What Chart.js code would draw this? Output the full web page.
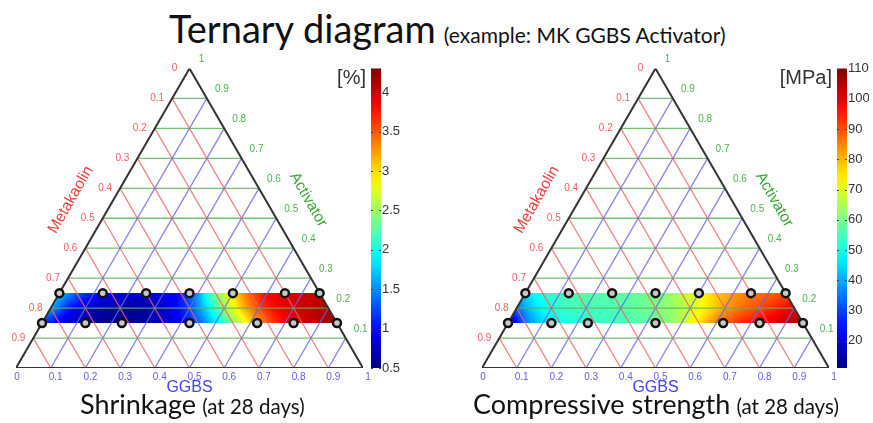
<!DOCTYPE html>
<html>
<head>
<meta charset="utf-8">
<script src="https://cdn.jsdelivr.net/npm/chart.js@4"></script>
<style>
  body { margin: 0; background: #fff; width: 873px; height: 423px; overflow: hidden; position: relative; }
  .panel { position: absolute; top: 0; width: 407px; height: 423px; }
  .txt { position: absolute; white-space: nowrap; font-family: Lato, "Open Sans", sans-serif; color: #111; }
  #title { left: 169px; top: 5px; }
  #title .big { font-size: 38px; }
  #title .small { font-size: 21px; margin-left: 4px; }
  .cap .big { font-size: 27px; }
  .cap .small { font-size: 20.5px; margin-left: 2px; }
</style>
</head>
<body>
<div id="title" class="txt"><span class="big">Ternary diagram</span> <span class="small">(example: MK GGBS Activator)</span></div>
<div class="panel" style="left:0"><canvas id="shrinkChart"></canvas></div>
<div class="panel" style="left:466px"><canvas id="strengthChart"></canvas></div>
<div class="txt cap" style="left:80px; top:387px"><span class="big">Shrinkage</span> <span class="small">(at 28 days)</span></div>
<div class="txt cap" style="left:473px; top:387px"><span class="big">Compressive strength</span> <span class="small">(at 28 days)</span></div>

<script>
// ternary grid ticks
var gridTicks = [0.1, 0.2, 0.3, 0.4, 0.5, 0.6, 0.7, 0.8, 0.9];
var metakaolinLabels = ['0', '0.1', '0.2', '0.3', '0.4', '0.5', '0.6', '0.7', '0.8', '0.9'];
var activatorLabels = ['0.1', '0.2', '0.3', '0.4', '0.5', '0.6', '0.7', '0.8', '0.9', '1'];
var ggbsLabels = ['0', '0.1', '0.2', '0.3', '0.4', '0.5', '0.6', '0.7', '0.8', '0.9', '1'];

// mix points (GGBS fraction) on the two activator levels
var upperActivator = 0.25;
var lowerActivator = 0.15;
var upperGGBS = [0, 0.125, 0.25, 0.375, 0.5, 0.65, 0.75];
var lowerGGBS = [0, 0.125, 0.23, 0.425, 0.62, 0.725, 0.85];

// interpolated field: rows at activator 0.25 / 0.2 / 0.15
var bandRows = [0.25, 0.2, 0.15];
var bandGGBS = [0, 0.05, 0.1, 0.15, 0.2, 0.25, 0.3, 0.35, 0.4, 0.45, 0.5, 0.55, 0.6, 0.65, 0.7, 0.75, 0.8, 0.85];

var shrinkTop = [1.7, 1.3, 1.05, 0.95, 0.85, 0.85, 0.95, 1.05, 1.6, 2.4, 3.0, 3.5, 3.85, 3.95, 4.0, 4.05];
var shrinkMid = [1.6, 1.1, 0.8, 0.65, 0.6, 0.6, 0.7, 0.9, 1.2, 1.8, 2.5, 3.1, 3.6, 3.85, 4.0, 4.05, 4.15];
var shrinkBottom = [1.2, 0.9, 0.7, 0.6, 0.55, 0.55, 0.6, 0.75, 0.95, 1.3, 1.8, 2.4, 3.0, 3.5, 3.85, 4.0, 4.1, 4.2];

var strengthTop = [45, 52, 55, 56, 57, 57, 58, 59, 61, 66, 72, 78, 83, 86, 88, 90];
var strengthMid = [35, 45, 52, 54, 55, 55, 56, 58, 60, 63, 68, 75, 82, 87, 91, 95, 100];
var strengthBottom = [15, 35, 45, 50, 52, 53, 54, 55, 57, 60, 66, 76, 86, 92, 96, 100, 104, 108];

// colour bars
var shrinkTicks = [0.5, 1, 1.5, 2, 2.5, 3, 3.5, 4];
var shrinkMin = 0.5, shrinkMax = 4.3;
var strengthTicks = [20, 30, 40, 50, 60, 70, 80, 90, 100, 110];
var strengthMin = 11, strengthMax = 110;

var H = Math.sqrt(3) / 2;
function tern(g, a) { return { x: g + a / 2, y: a * H }; }

function jet(t) {
  t = Math.max(0, Math.min(1, t));
  function c(v) { return Math.round(255 * Math.max(0, Math.min(1, v))); }
  return [c(1.5 - Math.abs(4 * t - 3)), c(1.5 - Math.abs(4 * t - 2)), c(1.5 - Math.abs(4 * t - 1))];
}

function rowValue(row, g) {
  var last = row.length - 1;
  var f = g / (bandGGBS[1] - bandGGBS[0]);
  var i = Math.floor(f);
  if (i >= last) return row[last];
  if (i < 0) return row[0];
  return row[i] + (row[i + 1] - row[i]) * (f - i);
}

function lineSet(p1, p2, color) {
  return { type: 'line', data: [p1, p2], borderColor: color, borderWidth: 1.3, pointRadius: 0, order: 3, yAxisID: 'y' };
}

function buildDatasets() {
  var sets = [];
  gridTicks.forEach(function (k) {
    sets.push(lineSet(tern(0, k), tern(1 - k, k), 'rgba(90,180,90,0.85)'));      // activator = k
    sets.push(lineSet(tern(0, 1 - k), tern(1 - k, 0), 'rgba(240,100,100,0.8)')); // metakaolin = k
    sets.push(lineSet(tern(k, 0), tern(k, 1 - k), 'rgba(100,100,240,0.8)'));     // GGBS = k
  });
  sets.push({ type: 'line', data: [tern(0, 0), tern(1, 0), tern(0, 1), tern(0, 0)],
    borderColor: '#333', borderWidth: 2, pointRadius: 0, order: 2, yAxisID: 'y' });
  var pts = upperGGBS.map(function (g) { return tern(g, upperActivator); })
    .concat(lowerGGBS.map(function (g) { return tern(g, lowerActivator); }));
  sets.push({ type: 'scatter', data: pts, pointRadius: 4, borderWidth: 2.5,
    borderColor: '#111', backgroundColor: '#c8c8c8', order: 1, yAxisID: 'y' });
  return sets;
}

var ternaryPlugin = {
  id: 'ternary',
  beforeDatasetsDraw: function (chart) {
    var o = chart.options.plugins.ternary;
    var xs = chart.scales.x, ys = chart.scales.y;
    var y0 = Math.floor(ys.getPixelForValue(bandRows[0] * H));
    var y1 = Math.ceil(ys.getPixelForValue(bandRows[2] * H));
    var x0 = Math.floor(xs.getPixelForValue(0));
    var x1 = Math.ceil(xs.getPixelForValue(1));
    var w = x1 - x0, h = y1 - y0;
    var off = document.createElement('canvas');
    off.width = w; off.height = h;
    var octx = off.getContext('2d');
    var img = octx.createImageData(w, h);
    for (var py = 0; py < h; py++) {
      var a = ys.getValueForPixel(y0 + py + 0.5) / H;
      if (a > bandRows[0] || a < bandRows[2]) continue;
      for (var px = 0; px < w; px++) {
        var X = xs.getValueForPixel(x0 + px + 0.5);
        var g = X - a / 2;
        if (g < 0 || 1 - g - a < 0) continue;
        var v;
        if (a >= bandRows[1]) {
          var t = (a - bandRows[1]) / (bandRows[0] - bandRows[1]);
          v = rowValue(o.mid, g) * (1 - t) + rowValue(o.top, g) * t;
        } else {
          var s = (a - bandRows[2]) / (bandRows[1] - bandRows[2]);
          v = rowValue(o.bottom, g) * (1 - s) + rowValue(o.mid, g) * s;
        }
        var col = jet((v - o.min) / (o.max - o.min));
        var k = (py * w + px) * 4;
        img.data[k] = col[0]; img.data[k + 1] = col[1]; img.data[k + 2] = col[2]; img.data[k + 3] = 255;
      }
    }
    octx.putImageData(img, 0, 0);
    chart.ctx.drawImage(off, x0, y0);
  },
  afterDraw: function (chart) {
    var o = chart.options.plugins.ternary;
    var ctx = chart.ctx;
    var xs = chart.scales.x, ys = chart.scales.y, cb = chart.scales.cb;
    function px(p) { return { x: xs.getPixelForValue(p.x), y: ys.getPixelForValue(p.y) }; }
    ctx.save();
    ctx.font = '10px "Liberation Sans Narrow", "Liberation Sans", sans-serif';
    ctx.textBaseline = 'middle';
    ctx.textAlign = 'center';
    ctx.fillStyle = '#f06060';
    metakaolinLabels.forEach(function (lab, i) {
      var p = px(tern(0, 1 - i / 10));
      ctx.fillText(lab, p.x - 15, p.y);
    });
    ctx.fillStyle = '#4fb04f';
    activatorLabels.forEach(function (lab, i) {
      var a = (i + 1) / 10;
      var p = px(tern(1 - a, a));
      ctx.fillText(lab, p.x + (lab === '1' ? 12 : 15), p.y - 9);
    });
    ctx.fillStyle = '#6060f0';
    ggbsLabels.forEach(function (lab, i) {
      var p = px(tern(i / 10, 0));
      ctx.fillText(lab, p.x + (i === 0 ? 1 : 5), p.y + 9);
    });

    // axis names
    ctx.font = '15.5px "Liberation Sans", sans-serif';
    var mk = px(tern(0, 0.5));
    ctx.fillStyle = '#f03a3a';
    ctx.save(); ctx.translate(mk.x - 32, mk.y - 18.5); ctx.rotate(-Math.PI / 3); ctx.fillText('Metakaolin', 0, 0); ctx.restore();
    var ac = px(tern(0.5, 0.5));
    ctx.fillStyle = '#36a836';
    ctx.save(); ctx.translate(ac.x + 32, ac.y - 18.5); ctx.rotate(Math.PI / 3); ctx.fillText('Activator', 0, 0); ctx.restore();
    var gb = px(tern(0.5, 0));
    ctx.fillStyle = '#4444f0';
    ctx.font = '16px "Liberation Sans", sans-serif';
    ctx.fillText('GGBS', gb.x, gb.y + 20);

    // colour bar
    var bl = cb.left + 8, bw = 10;
    var grad = ctx.createLinearGradient(0, cb.bottom, 0, cb.top);
    for (var i = 0; i <= 20; i++) {
      var c = jet(i / 20);
      grad.addColorStop(i / 20, 'rgb(' + c.join(',') + ')');
    }
    ctx.fillStyle = grad;
    ctx.fillRect(bl, cb.top, bw, cb.bottom - cb.top);
    ctx.strokeStyle = '#444';
    ctx.lineWidth = 1;
    o.ticks.forEach(function (v) {
      var y = Math.round(cb.getPixelForValue(v)) + 0.5;
      ctx.beginPath();
      ctx.moveTo(bl, y); ctx.lineTo(bl + 2, y);
      ctx.moveTo(bl + bw - 2, y); ctx.lineTo(bl + bw, y);
      ctx.stroke();
    });
    ctx.font = '20px "Liberation Sans", sans-serif';
    ctx.fillStyle = '#333';
    ctx.textAlign = 'right';
    ctx.fillText(o.unit, bl - 5, cb.top + 10);
    ctx.restore();
  }
};

function makeChart(id, rows, ticks, min, max, unit) {
  return new Chart(document.getElementById(id), {
    data: { datasets: buildDatasets() },
    plugins: [ternaryPlugin],
    options: {
      responsive: true,
      maintainAspectRatio: false,
      animation: false,
      layout: { padding: { left: 16, right: 4, top: 68.5, bottom: 55 } },
      plugins: {
        legend: { display: false },
        tooltip: { enabled: false },
        ternary: { top: rows[0], mid: rows[1], bottom: rows[2], min: min, max: max, ticks: ticks, unit: unit }
      },
      scales: {
        x: { type: 'linear', min: 0, max: 1, display: false },
        y: { type: 'linear', min: 0, max: H, display: false },
        cb: {
          type: 'linear', axis: 'y', position: 'right', min: min, max: max,
          afterBuildTicks: function (ax) { ax.ticks = ticks.map(function (v) { return { value: v }; }); },
          afterFit: function (ax) { ax.width = 40; },
          grid: { display: false, drawTicks: false },
          border: { display: false },
          ticks: {
            padding: 19, color: '#333',
            font: { family: '"Liberation Sans Narrow", "Liberation Sans", sans-serif', size: 13 },
            callback: function (v) { return String(v); }
          }
        }
      }
    }
  });
}

makeChart('shrinkChart', [shrinkTop, shrinkMid, shrinkBottom], shrinkTicks, shrinkMin, shrinkMax, '[%]');
makeChart('strengthChart', [strengthTop, strengthMid, strengthBottom], strengthTicks, strengthMin, strengthMax, '[MPa]');
</script>
</body>
</html>
